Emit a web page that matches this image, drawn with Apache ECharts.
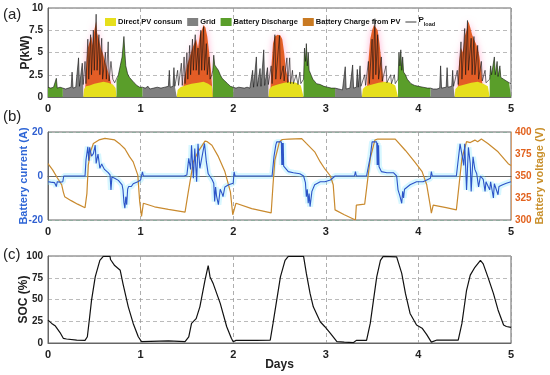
<!DOCTYPE html>
<html><head><meta charset="utf-8">
<script src="https://cdn.jsdelivr.net/npm/echarts@6/dist/echarts.min.js"></script>
<style>html,body{margin:0;padding:0;background:#fff}#c{width:550px;height:375px}</style>
</head><body><div id="c"></div>
<script>
// ---------- DATA (time in days) ----------
const legendNames = ['Direct PV consum', 'Grid', 'Battery Discharge', 'Battery Charge from PV', 'P_load'];

// Household load P_load (kW)
const pLoad = [
[0,1.1],[0.03,1.0],[0.06,1.1],[0.08,1.0],[0.09,2.1],[0.10,1.0],[0.13,1.1],[0.16,1.0],[0.19,0.9],[0.22,1.0],[0.25,1.1],[0.26,2.8],[0.27,1.0],[0.30,1.1],[0.32,1.2],[0.33,4.4],[0.34,1.2],[0.36,1.3],[0.37,3.8],[0.38,1.4],
[0.40,4.0],[0.41,1.5],[0.43,6.5],[0.44,2.0],[0.46,7.0],[0.47,2.5],[0.49,7.5],[0.50,3.0],[0.52,9.3],[0.53,3.0],[0.55,7.0],[0.56,2.5],[0.58,6.6],[0.59,2.0],[0.62,5.0],[0.63,2.0],[0.65,6.2],[0.66,1.8],[0.68,4.0],[0.70,2.0],[0.72,1.6],[0.74,1.8],
[0.76,2.5],[0.78,3.5],[0.80,4.5],[0.82,6.8],[0.83,5.0],[0.84,3.5],[0.86,2.6],[0.88,2.2],[0.90,2.0],[0.93,1.6],[0.96,1.3],[0.99,1.1],[1.02,1.1],
[1.05,1.0],[1.08,1.2],[1.10,0.9],[1.14,1.0],[1.18,1.1],[1.22,1.0],[1.26,1.1],[1.28,1.0],[1.30,1.2],[1.31,3.0],[1.32,1.1],[1.35,1.2],[1.36,3.3],[1.37,1.2],[1.39,1.3],
[1.40,3.0],[1.41,1.3],[1.44,3.8],[1.45,1.3],[1.47,4.5],[1.48,1.5],[1.50,5.0],[1.51,2.0],[1.53,5.8],[1.54,2.5],[1.56,6.5],[1.57,3.0],[1.59,7.0],[1.60,3.0],[1.62,5.5],[1.63,2.5],[1.65,7.5],[1.66,3.0],[1.68,7.9],[1.69,3.0],[1.71,6.0],[1.72,2.5],[1.74,4.5],[1.75,2.0],[1.77,2.5],[1.78,3.0],
[1.79,4.7],[1.80,3.6],[1.82,3.3],[1.84,3.0],[1.86,2.5],[1.88,2.1],[1.91,1.8],[1.94,1.5],[1.97,1.2],[2.00,1.1],
[2.03,1.0],[2.06,1.1],[2.08,0.9],[2.12,1.0],[2.15,1.1],[2.18,1.0],[2.20,1.2],[2.21,3.0],[2.22,1.1],[2.24,1.2],[2.25,4.5],[2.26,1.2],[2.28,1.3],[2.29,3.2],[2.30,1.2],[2.32,1.3],[2.33,5.3],[2.34,1.3],[2.36,1.4],[2.37,3.3],[2.38,1.4],
[2.41,3.5],[2.42,1.5],[2.45,7.0],[2.46,2.0],[2.50,6.9],[2.51,2.0],[2.54,3.5],[2.55,1.8],[2.58,4.4],[2.59,1.6],[2.61,4.4],[2.62,1.5],[2.64,3.0],[2.65,1.5],[2.68,2.5],[2.70,1.4],[2.72,2.8],[2.73,1.5],[2.76,2.0],
[2.77,5.5],[2.78,4.0],[2.79,6.0],[2.80,3.5],[2.81,5.0],[2.82,3.0],[2.84,2.5],[2.86,2.0],[2.90,1.5],[2.94,1.4],[2.98,1.2],[3.02,1.1],[3.06,1.0],[3.10,1.0],
[3.14,0.9],[3.18,0.8],[3.20,0.8],[3.21,3.4],[3.22,0.9],[3.26,1.0],[3.29,3.6],[3.30,1.0],[3.33,1.1],[3.34,3.1],[3.35,1.1],[3.36,1.2],[3.37,3.5],[3.38,1.2],[3.39,1.2],
[3.42,2.5],[3.43,1.3],[3.46,4.0],[3.47,1.5],[3.50,6.5],[3.51,2.0],[3.53,8.8],[3.54,2.5],[3.56,7.0],[3.57,2.0],[3.60,4.5],[3.61,1.8],[3.65,3.5],[3.66,1.6],[3.70,2.5],[3.71,1.5],[3.74,2.5],[3.75,1.5],[3.78,2.0],
[3.79,5.0],[3.80,3.5],[3.81,5.3],[3.82,3.0],[3.83,4.5],[3.84,2.8],[3.86,2.5],[3.88,2.0],[3.92,1.5],[3.96,1.3],[4.00,1.2],[4.05,1.1],[4.10,1.0],[4.13,1.0],
[4.16,0.9],[4.20,0.9],[4.23,1.0],[4.24,3.5],[4.25,1.0],[4.30,1.1],[4.31,3.3],[4.32,1.1],[4.36,1.2],[4.37,3.0],[4.38,1.2],[4.39,1.2],
[4.42,3.0],[4.43,1.4],[4.46,6.2],[4.47,2.0],[4.50,7.7],[4.51,2.5],[4.53,8.6],[4.54,3.0],[4.57,6.6],[4.58,2.5],[4.60,6.8],[4.61,2.5],[4.64,5.8],[4.65,2.0],[4.68,4.0],[4.69,1.8],[4.72,3.0],[4.73,1.6],[4.77,2.0],
[4.78,3.5],[4.79,2.5],[4.82,4.5],[4.83,2.5],[4.85,4.0],[4.86,2.3],[4.88,3.5],[4.89,2.2],[4.92,2.0],[4.95,1.8],[4.98,1.6],[5.00,1.5]
];

// PV power (top of battery-charge area), kW
const pvPower = [
[0.40,0],[0.41,3.0],[0.42,4.5],[0.43,5.5],[0.45,6.2],[0.47,6.8],[0.48,5.8],[0.50,7.5],[0.52,8.5],[0.53,7.2],[0.55,6.5],[0.57,5.5],[0.59,5.0],[0.61,4.2],[0.63,3.5],[0.65,2.8],[0.67,2.0],[0.69,1.2],[0.70,0],
[1.45,0],[1.47,2.0],[1.50,3.5],[1.53,4.5],[1.56,5.5],[1.58,6.0],[1.60,6.5],[1.62,5.5],[1.64,7.0],[1.66,7.5],[1.68,8.1],[1.70,7.8],[1.72,6.8],[1.74,5.0],[1.76,3.0],[1.78,0],
[2.40,0],[2.41,3.0],[2.43,6.0],[2.45,6.8],[2.48,7.0],[2.51,6.9],[2.53,6.5],[2.55,5.0],[2.57,3.0],[2.60,1.8],[2.62,0],
[3.44,0],[3.46,4.0],[3.48,6.5],[3.50,7.5],[3.52,8.1],[3.54,8.0],[3.56,7.5],[3.58,6.0],[3.60,4.0],[3.62,2.0],[3.63,0],
[4.42,0],[4.44,4.0],[4.46,5.5],[4.48,5.0],[4.50,6.8],[4.52,7.5],[4.54,8.5],[4.56,7.8],[4.58,7.0],[4.60,6.5],[4.62,6.0],[4.64,5.5],[4.66,4.5],[4.68,3.0],[4.70,0]
];

// Direct PV consumption, kW
const directPV = [
[0.38,0],[0.39,0.9],[0.41,1.2],[0.45,1.3],[0.50,1.5],[0.55,1.6],[0.60,1.7],[0.65,1.6],[0.70,1.4],[0.73,1.0],[0.74,0],
[1.39,0],[1.40,0.8],[1.43,1.1],[1.48,1.3],[1.55,1.5],[1.62,1.6],[1.68,1.7],[1.73,1.5],[1.77,1.2],[1.78,0],
[2.38,0],[2.39,0.9],[2.42,1.2],[2.48,1.4],[2.55,1.6],[2.62,1.7],[2.68,1.6],[2.73,1.3],[2.76,0],
[3.39,0],[3.40,0.9],[3.43,1.2],[3.50,1.4],[3.57,1.6],[3.64,1.7],[3.70,1.6],[3.75,1.3],[3.78,0],
[4.39,0],[4.40,0.9],[4.43,1.2],[4.50,1.4],[4.57,1.6],[4.64,1.7],[4.70,1.5],[4.75,1.2],[4.77,0]
];

// Periods (days) supplied by the grid / by battery discharge
const gridPeriods = [[0.16,0.38],[1.02,1.39],[2.00,2.38],[3.10,3.39],[4.13,4.39]];
const dischargePeriods = [[0,0.16],[0.74,1.02],[1.78,2.00],[2.76,3.10],[3.78,4.13],[4.77,5.00]];

// Battery current (A)
const batteryCurrent = [
[0,-2.6],[0.03,-2.8],[0.05,-2.4],[0.07,-3.0],[0.09,-4.8],[0.10,-2.6],[0.13,-2.8],[0.16,-2.6],[0.17,0],[0.25,0],[0.32,0],[0.40,0],
[0.41,7.2],[0.43,13.3],[0.44,7.0],[0.45,13.0],[0.47,9.0],[0.49,10.2],[0.51,14.0],[0.52,5.7],[0.54,10.0],[0.56,3.5],[0.58,5.5],[0.59,4.5],[0.61,3.0],[0.63,2.7],[0.65,1.5],[0.67,0.5],[0.68,-6.3],[0.69,-0.5],[0.72,-1.0],[0.74,-1.8],[0.76,-2.0],[0.78,-2.6],[0.80,-4.0],[0.81,-6.3],[0.82,-12.0],[0.83,-14.6],[0.84,-9.4],[0.85,-13.0],[0.86,-6.0],[0.87,-4.8],[0.90,-4.8],[0.92,-3.5],[0.94,-3.3],[0.97,-2.6],[1.00,-1.8],[1.01,-1.3],[1.02,1.9],[1.03,0],
[1.20,0],[1.47,0],[1.50,0.5],[1.52,8.0],[1.54,3.0],[1.55,14.0],[1.57,-1.0],[1.585,12.5],[1.605,-2.6],[1.62,14.6],[1.64,3.5],[1.66,8.0],[1.69,14.8],[1.71,6.5],[1.73,1.0],[1.75,0.5],[1.77,-1.5],[1.79,-3.3],[1.80,-11.6],[1.81,-5.0],[1.82,-9.0],[1.84,-13.0],[1.86,-6.0],[1.88,-8.0],[1.89,-9.4],[1.91,-5.0],[1.93,-5.0],[1.95,-4.0],[1.97,-4.0],[2.00,-3.3],[2.01,1.9],[2.02,0],
[2.20,0],[2.42,0],[2.44,8.7],[2.46,14.0],[2.47,15.5],[2.52,15.5],[2.525,5.0],[2.53,15.0],[2.535,5.0],[2.54,15.0],[2.545,4.5],[2.56,4.2],[2.595,2.0],[2.65,1.5],[2.72,1.0],[2.76,0],[2.78,-3.0],[2.79,-9.4],[2.80,-6.0],[2.81,-12.4],[2.82,-8.0],[2.83,-13.9],[2.85,-7.0],[2.88,-4.0],[2.94,-2.6],[2.99,-2.6],[3.05,-1.8],[3.10,0],
[3.20,0],[3.31,0],[3.32,2.0],[3.33,0],[3.44,0],[3.48,8.7],[3.50,15.5],[3.55,15.5],[3.555,5.0],[3.56,15.0],[3.565,5.0],[3.57,14.0],[3.575,4.2],[3.60,2.0],[3.66,1.5],[3.73,1.5],[3.765,0],[3.78,-6.3],[3.80,-9.0],[3.82,-12.4],[3.83,-7.0],[3.84,-10.0],[3.85,-6.0],[3.87,-6.3],[3.91,-4.0],[3.98,-2.6],[4.05,-2.6],[4.13,-1.0],[4.14,2.0],[4.15,0],
[4.30,0],[4.41,0],[4.45,14.6],[4.47,15.5],[4.49,4.8],[4.50,14.6],[4.52,-6.3],[4.54,13.0],[4.56,5.6],[4.57,-7.0],[4.59,8.7],[4.61,3.0],[4.63,1.0],[4.65,-5.0],[4.67,0],[4.70,-1.5],[4.72,-7.0],[4.73,-2.6],[4.77,-6.3],[4.78,-2.6],[4.81,-10.0],[4.82,-3.5],[4.86,-8.5],[4.87,-4.8],[4.91,-4.0],[4.95,-3.3],[5.00,-2.6]
];

// Battery voltage (V)
const batteryVoltage = [
[0,364],[0.05,357],[0.10,348],[0.148,340],[0.165,332],[0.18,326.5],[0.25,322],[0.32,318],[0.40,314],[0.42,330],[0.435,362],[0.46,378],[0.49,387],[0.55,391],[0.615,392.7],[0.72,391],[0.78,386],[0.83,381],[0.88,372],[0.92,366],[0.95,357],[0.97,351],[0.99,321],[1.01,304],[1.03,319],[1.15,315],[1.30,312],[1.48,309],[1.515,332],[1.57,366],[1.62,377.5],[1.695,389.6],[1.72,389],[1.77,385],[1.84,372],[1.91,355],[1.97,332],[1.995,306],[2.00,304],[2.03,319],[2.20,313],[2.41,308],[2.43,340],[2.45,368],[2.50,389],[2.53,391.5],[2.60,392],[2.74,392.5],[2.79,387],[2.88,377.5],[2.94,366],[2.99,358],[3.05,350],[3.08,340],[3.10,311.5],[3.20,306],[3.32,300],[3.33,317],[3.42,318],[3.48,370],[3.53,390.8],[3.56,392],[3.75,392],[3.86,379],[3.96,366],[4.04,355],[4.09,340],[4.13,315],[4.14,307.7],[4.16,317],[4.30,314],[4.41,311.5],[4.47,370],[4.52,389],[4.56,388],[4.61,390.8],[4.64,389],[4.68,392],[4.75,387],[4.86,377.5],[4.97,364],[5.00,362]
];

// State of charge (%)
const soc = [
[0,26.3],[0.02,25],[0.04,22.5],[0.06,21],[0.08,19.5],[0.10,19],[0.13,12],[0.165,5.4],[0.20,4.6],[0.31,3.4],[0.40,3],[0.425,7.2],[0.45,30],[0.47,49],[0.51,76],[0.56,95],[0.597,99.6],[0.67,99.6],[0.675,96],[0.688,95],[0.72,89],[0.78,83.6],[0.81,68],[0.867,41.6],[0.92,22.5],[0.975,7.2],[1.01,1.5],[1.03,3],[1.30,2.5],[1.48,1.5],[1.52,7],[1.55,22.5],[1.60,28],[1.64,41.6],[1.695,72],[1.73,89],[1.75,76],[1.785,68],[1.86,45.5],[1.93,18.7],[1.98,5.4],[2.00,1.5],[2.03,3],[2.25,3],[2.40,3.4],[2.43,22.5],[2.51,76],[2.56,95],[2.595,99.6],[2.76,99.6],[2.79,80],[2.83,57],[2.865,41.6],[2.94,24.4],[2.99,18.7],[3.05,11],[3.12,1.5],[3.20,1],[3.30,0.5],[3.33,3],[3.44,3],[3.48,22.5],[3.55,76],[3.59,95],[3.62,99.6],[3.765,99],[3.82,80],[3.86,57],[3.91,34],[3.98,20.6],[4.04,17],[4.09,9.6],[4.14,1],[4.20,3.4],[4.43,3.4],[4.47,22.5],[4.52,60.6],[4.56,78],[4.61,87],[4.67,95],[4.70,91],[4.75,76],[4.81,57],[4.86,38],[4.92,20.6],[4.95,19],[5.00,18]
];

// ---------- BUILD ----------
function areaFrom(periods) {
  const out = [];
  periods.forEach(([a, b]) => {
    out.push([a, 0]);
    pLoad.forEach(p => { if (p[0] >= a - 1e-9 && p[0] <= b + 1e-9) out.push(p); });
    out.push([b, 0]);
  });
  return out;
}

const F = "'Liberation Sans Narrow','Liberation Sans',Arial,sans-serif";
const LS = 10;
const GRIDS = [
  {left: 48, right: 39, top: 8, height: 89},
  {left: 48, right: 39, top: 132, height: 88},
  {left: 48, right: 39, top: 256, height: 87}
].map(g => Object.assign(g, {show: true, borderColor: '#666', borderWidth: 1, backgroundColor: '#fff',
  containLabel: false, outerBoundsMode: 'none'}));

function xAx(i, extra) {
  return Object.assign({
    type: 'value', gridIndex: i, min: 0, max: 5, interval: 1,
    axisLine: {show: true, lineStyle: {color: '#666'}}, axisTick: {show: false},
    axisLabel: {fontFamily: F, fontWeight: 'bold', fontSize: 11, color: '#222', margin: 6},
    splitLine: {show: true, lineStyle: {color: '#999', type: [4, 3], width: 0.8}}
  }, extra || {});
}
function yAx(i, min, max, step, name, extra) {
  return Object.assign({
    type: 'value', gridIndex: i, min: min, max: max, interval: step,
    axisLine: {show: true, lineStyle: {color: '#666'}}, axisTick: {show: false},
    axisLabel: {fontFamily: F, fontWeight: 'bold', fontSize: LS, color: '#222', margin: 5},
    splitLine: {show: true, lineStyle: {color: '#aaa', type: [4, 3], width: 0.8}},
    name: name, nameLocation: 'middle', nameRotate: 90, nameGap: 15, nameMoveOverlap: false,
    nameTextStyle: {fontFamily: F, fontWeight: 'bold', fontSize: 12, color: '#222'}
  }, extra || {});
}

const chart = echarts.init(document.getElementById('c'), null, {renderer: 'canvas'});
chart.setOption({
  animation: false,
  backgroundColor: '#fff',
  grid: GRIDS,
  legend: {
    left: 100, top: 11, itemWidth: 11, itemHeight: 8, itemGap: 5,
    data: [
      {name: legendNames[0], icon: 'rect'},
      {name: legendNames[1], icon: 'rect'},
      {name: legendNames[2], icon: 'rect'},
      {name: legendNames[3], icon: 'rect'},
      {name: legendNames[4], icon: 'path://M0,0 H40 V3 H0 Z'}
    ],
    formatter: n => n === 'P_load' ? '{p|P}{s|load}' : n,
    textStyle: {fontFamily: F, fontWeight: 'bold', fontSize: 7.5, color: '#111', padding: [0, 0, 0, -3],
      rich: {p: {fontFamily: F, fontWeight: 'bold', fontSize: 8, padding: [0, 0, 4, 0]},
             s: {fontFamily: F, fontWeight: 'bold', fontSize: 5.5, padding: [4, 0, 0, 0]}}}
  },
  xAxis: [xAx(0), xAx(1), xAx(2, {name: 'Days', nameLocation: 'middle', nameGap: 16, nameMoveOverlap: false,
    nameTextStyle: {fontFamily: F, fontWeight: 'bold', fontSize: 12, color: '#222'}})],
  yAxis: [
    yAx(0, 0, 10, 2.5, 'P(kW)', {nameGap: 16}),
    yAx(1, -20, 20, 20, 'Battery current (A)', {
      axisLabel: {fontFamily: F, fontWeight: 'bold', fontSize: LS, color: '#2f5fd0', margin: 5},
      splitLine: {show: true, lineStyle: {color: '#8a9', type: [4, 3], width: 0.8}},
      nameTextStyle: {fontFamily: F, fontWeight: 'bold', fontSize: 11, color: '#2f66d6'}, nameGap: 19}),
    yAx(1, 300, 400, 25, 'Battery voltage (V)', {position: 'right',
      axisLine: {show: true, lineStyle: {color: '#d9a070'}},
      axisLabel: {fontFamily: F, fontWeight: 'bold', fontSize: LS, color: '#e2621e', margin: 4},
      splitLine: {show: false},
      nameTextStyle: {fontFamily: F, fontWeight: 'bold', fontSize: 11, color: '#c9902c'}, nameGap: 23}),
    yAx(2, 0, 100, 25, 'SOC (%)', {nameGap: 18})
  ],
  graphic: [
    {type: 'text', left: 3, top: 7, style: {text: '(a)', font: "15px 'Liberation Sans',Arial,sans-serif", fill: '#222'}},
    {type: 'text', left: 3, top: 109, style: {text: '(b)', font: "15px 'Liberation Sans',Arial,sans-serif", fill: '#222'}},
    {type: 'text', left: 3, top: 247, style: {text: '(c)', font: "15px 'Liberation Sans',Arial,sans-serif", fill: '#222'}}
  ],
  series: [
    {name: legendNames[3], type: 'line', xAxisIndex: 0, yAxisIndex: 0, data: pvPower, symbol: 'none',
      itemStyle: {color: '#c97a22'}, lineStyle: {width: 0},
      areaStyle: {color: '#e2581c', opacity: 0.95, shadowColor: 'rgba(255,120,175,0.6)', shadowBlur: 7}},
    {name: legendNames[0], type: 'line', xAxisIndex: 0, yAxisIndex: 0, data: directPV, symbol: 'none',
      itemStyle: {color: '#e6df1c'}, lineStyle: {width: 0}, areaStyle: {color: '#e6df1c', opacity: 1}},
    {name: legendNames[1], type: 'line', xAxisIndex: 0, yAxisIndex: 0, data: areaFrom(gridPeriods), symbol: 'none',
      itemStyle: {color: '#808080'}, lineStyle: {width: 0}, areaStyle: {color: '#808080', opacity: 1}},
    {name: legendNames[2], type: 'line', xAxisIndex: 0, yAxisIndex: 0, data: areaFrom(dischargePeriods), symbol: 'none',
      itemStyle: {color: '#5a9e2a'}, lineStyle: {width: 0}, areaStyle: {color: '#5a9e2a', opacity: 1}},
    {name: legendNames[4], type: 'line', xAxisIndex: 0, yAxisIndex: 0, data: pLoad, symbol: 'none', showSymbol: false,
      itemStyle: {color: '#111'}, lineStyle: {color: '#111', width: 0.6}},

    {name: 'halo', type: 'line', xAxisIndex: 1, yAxisIndex: 1, data: batteryCurrent, symbol: 'none', silent: true,
      lineStyle: {color: 'rgba(140,232,255,0.35)', width: 6}},
    {name: 'Battery voltage', type: 'line', xAxisIndex: 1, yAxisIndex: 2, data: batteryVoltage, symbol: 'none',
      lineStyle: {color: '#c98a2e', width: 1.2}},
    {name: 'Battery current', type: 'line', xAxisIndex: 1, yAxisIndex: 1, data: batteryCurrent, symbol: 'none',
      lineStyle: {color: '#2c54c8', width: 1.1}},

    {name: 'SOC', type: 'line', xAxisIndex: 2, yAxisIndex: 3, data: soc, symbol: 'none',
      lineStyle: {color: '#111', width: 1.2}}
  ]
});
</script></body></html>
